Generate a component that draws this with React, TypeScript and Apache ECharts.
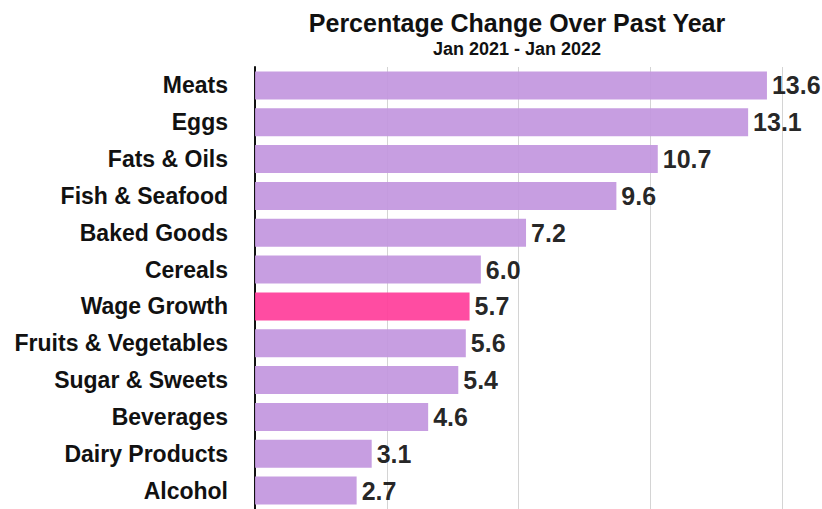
import React, { useEffect, useRef } from "react";
import * as echarts from "echarts";

const categories = [
  "Meats",
  "Eggs",
  "Fats & Oils",
  "Fish & Seafood",
  "Baked Goods",
  "Cereals",
  "Wage Growth",
  "Fruits & Vegetables",
  "Sugar & Sweets",
  "Beverages",
  "Dairy Products",
  "Alcohol",
];
const values = [13.6, 13.1, 10.7, 9.6, 7.2, 6.0, 5.7, 5.6, 5.4, 4.6, 3.1, 2.7];
const highlight = "Wage Growth";

const titleText = "Percentage Change Over Past Year";
const subtitleText = "Jan 2021 - Jan 2022";

const FONT = "'Liberation Sans', Arial, Helvetica, sans-serif";

export default function App() {
  const ref = useRef<HTMLDivElement>(null);
  useEffect(() => {
    if (!ref.current) return;
    const chart = echarts.init(ref.current, undefined, { renderer: "svg" });
    const gridLeft = 255;
    const gridWidth = 527;
    chart.setOption({
      animation: false,
      textStyle: { fontFamily: FONT },
      graphic: [
        {
          type: "text",
          x: 517,
          y: 10,
          style: {
            text: titleText,
            fill: "#111",
            font: `bold 25px ${FONT}`,
            textAlign: "center",
            textVerticalAlign: "top",
          },
        },
        {
          type: "text",
          x: 517,
          y: 40,
          style: {
            text: subtitleText,
            fill: "#111",
            font: `bold 18px ${FONT}`,
            textAlign: "center",
            textVerticalAlign: "top",
          },
        },
      ],
      grid: { left: gridLeft, top: 67, width: gridWidth, height: 445, containLabel: false },
      xAxis: {
        type: "value",
        min: 0,
        max: 14,
        interval: 3.5,
        axisLabel: { show: false },
        axisLine: { show: false },
        axisTick: { show: false },
        splitLine: { show: true, lineStyle: { color: "#d4d4d4", width: 1 } },
      },
      yAxis: {
        type: "category",
        inverse: true,
        data: categories,
        axisLine: { show: true, lineStyle: { color: "#111", width: 2 } },
        axisTick: { show: false },
        axisLabel: {
          color: "#111",
          fontWeight: "bold",
          fontSize: 23,
          fontFamily: FONT,
          margin: 27,
        },
      },
      series: [
        {
          type: "bar",
          barWidth: 28,
          data: categories.map((c, i) => ({
            value: values[i],
            itemStyle: {
              color: c === highlight ? "#ff3d9a" : "#c296de",
              opacity: 0.92,
            },
          })),
          label: {
            show: true,
            position: "right",
            distance: 5,
            formatter: (p: any) => Number(p.value).toFixed(1),
            color: "#111",
            fontWeight: "bold",
            fontSize: 25,
            fontFamily: FONT,
          },
        },
      ],
    });
    return () => chart.dispose();
  }, []);
  return (
    <div
      ref={ref}
      style={{ position: "absolute", left: 0, top: 0, width: 822, height: 509, background: "#fff" }}
    />
  );
}
